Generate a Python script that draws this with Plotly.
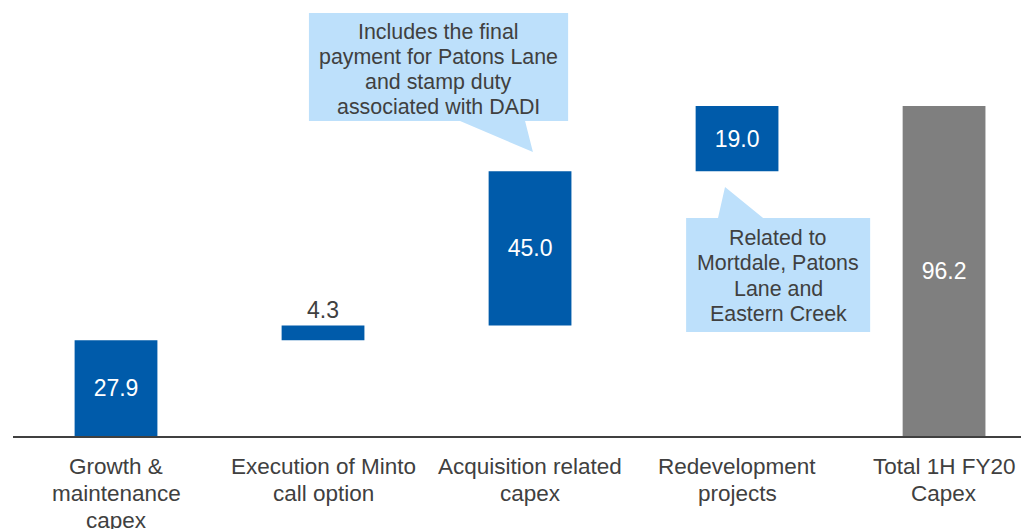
import plotly.graph_objects as go

categories = [["Growth &", "maintenance", "capex"],
              ["Execution of Minto", "call option"],
              ["Acquisition related", "capex"],
              ["Redevelopment", "projects"],
              ["Total 1H FY20", "Capex"]]
values = [27.9, 4.3, 45.0, 19.0, 96.2]
measures = ["relative", "relative", "relative", "relative", "total"]
labels = ["27.9", "4.3", "45.0", "19.0", "96.2"]
text_pos = ["inside", "outside", "inside", "inside", "inside"]

callout1_lines = ["Includes the final", "payment for Patons Lane", "and stamp duty", "associated with DADI"]
callout2_lines = ["Related to", "Mortdale, Patons", "Lane and", "Eastern Creek"]

BLUE = "#005BAA"
GREY = "#7F7F7F"
CALLOUT = "#BDE0FB"
TEXT = "#404040"
FONT = "Liberation Sans, Arial, sans-serif"

x_idx = list(range(len(categories)))

fig = go.Figure(go.Waterfall(
    x=x_idx, y=values, measure=measures,
    text=labels, textposition=text_pos, texttemplate="%{text}",
    insidetextfont=dict(color="white", size=23, family=FONT),
    outsidetextfont=dict(color=TEXT, size=23, family=FONT),
    insidetextanchor="middle",
    constraintext="none",
    width=0.4,
    increasing=dict(marker=dict(color=BLUE)),
    decreasing=dict(marker=dict(color=BLUE)),
    totals=dict(marker=dict(color=GREY)),
    connector=dict(visible=False),
    hoverinfo="skip",
    cliponaxis=False,
))

# callout bubbles (box + tail) in data coordinates
c1 = dict(x0=0.932, x1=2.184, ytop=123.3, ybot=91.8, tb0=1.662, tb1=1.976, tipx=2.014, tipy=82.8)
p1 = (f"M{c1['x0']},{c1['ytop']} L{c1['x1']},{c1['ytop']} L{c1['x1']},{c1['ybot']} "
      f"L{c1['tb1']},{c1['ybot']} L{c1['tipx']},{c1['tipy']} L{c1['tb0']},{c1['ybot']} "
      f"L{c1['x0']},{c1['ybot']} Z")
c2 = dict(x0=2.754, x1=3.643, ytop=63.55, ybot=30.3, tb0=2.908, tb1=3.126, tipx=2.942, tipy=72.6)
p2 = (f"M{c2['x0']},{c2['ytop']} L{c2['tb0']},{c2['ytop']} L{c2['tipx']},{c2['tipy']} "
      f"L{c2['tb1']},{c2['ytop']} L{c2['x1']},{c2['ytop']} L{c2['x1']},{c2['ybot']} "
      f"L{c2['x0']},{c2['ybot']} Z")
for p in (p1, p2):
    fig.add_shape(type="path", xref="x", yref="y", path=p, fillcolor=CALLOUT,
                  line=dict(width=0), layer="below")

# callout text, one annotation per line for PowerPoint-like line spacing
def add_lines(lines, xc, y_first_px_from_base, spacing_px, size):
    for k, line in enumerate(lines):
        fig.add_annotation(x=xc, y=0, xref="x", yref="y", text=line, showarrow=False,
                           yanchor="middle", yshift=y_first_px_from_base - k * spacing_px,
                           font=dict(size=size, color=TEXT, family=FONT))

add_lines(callout1_lines, 1.558, 436 - 32, 25, 21.4)
add_lines(callout2_lines, 3.198, 436 - 238, 25.3, 21.4)

# category labels below the axis
for i, cat in enumerate(categories):
    for k, line in enumerate(cat):
        fig.add_annotation(x=i, y=0, xref="x", yref="paper", text=line, showarrow=False,
                           yanchor="middle", yshift=-30 - 27 * k,
                           font=dict(size=22.5, color=TEXT, family=FONT))

# page body has an 8px margin: figure sits at (8, 8) in the window
fig.update_layout(
    width=1029, height=521,
    margin=dict(l=5, r=0, t=0, b=93),
    paper_bgcolor="white", plot_bgcolor="white",
    showlegend=False,
    font=dict(family=FONT, color=TEXT),
    xaxis=dict(range=[-0.4976, 4.449], tickvals=x_idx, showticklabels=False, automargin=False,
               showline=True, linecolor=TEXT, linewidth=2, showgrid=False, zeroline=False,
               ticks=""),
    yaxis=dict(range=[0, 124.77], visible=False, showgrid=False, zeroline=False, automargin=False),
)

fig.write_html("out.html")
